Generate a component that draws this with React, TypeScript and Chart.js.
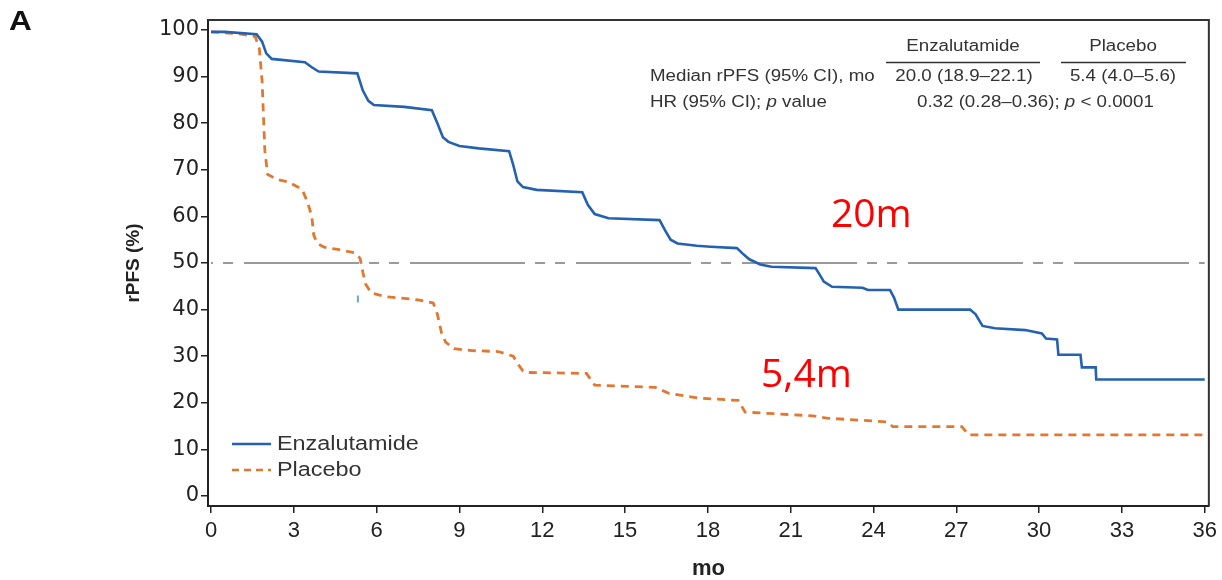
import React, { useEffect, useRef } from "react";
import { Chart, registerables } from "chart.js";

Chart.register(...registerables);

// ---- data ----
const enzTimes = [0, 0.5, 1.65, 1.85, 2.0, 2.2, 3.4, 3.65, 3.9, 5.3, 5.5, 5.7, 5.9, 7.0, 8.0, 8.2, 8.4, 8.6, 9.0, 9.7, 10.8, 10.95, 11.1, 11.3, 11.8, 13.45, 13.65, 13.9, 14.4, 16.25, 16.45, 16.65, 16.9, 17.6, 18.1, 19.05, 19.3, 19.5, 19.9, 20.3, 21.9, 22.05, 22.2, 22.5, 23.6, 23.8, 24.6, 24.75, 24.9, 27.5, 27.7, 27.95, 28.4, 29.5, 30.1, 30.25, 30.65, 30.7, 31.5, 31.55, 32.05, 32.07, 36.0];
const enzValues = [99.6, 99.6, 99.1, 97.5, 95.0, 93.8, 93.1, 92.0, 91.1, 90.7, 87.0, 84.8, 83.9, 83.5, 82.8, 80.0, 77.0, 76.0, 75.1, 74.6, 74.0, 71.0, 67.5, 66.3, 65.7, 65.2, 62.5, 60.5, 59.6, 59.2, 57.0, 55.0, 54.2, 53.7, 53.5, 53.2, 51.8, 50.8, 49.7, 49.2, 48.9, 47.5, 46.0, 44.9, 44.7, 44.2, 44.2, 42.5, 40.0, 40.0, 39.0, 36.5, 36.0, 35.6, 34.9, 33.8, 33.6, 30.3, 30.3, 27.6, 27.6, 25.0, 25.0];

const plaTimes = [0, 1.0, 1.6, 1.75, 1.85, 1.95, 2.05, 2.4, 2.8, 3.3, 3.5, 3.65, 3.72, 3.85, 4.1, 4.6, 5.2, 5.4, 5.5, 5.6, 5.8, 6.3, 7.5, 8.05, 8.2, 8.35, 8.5, 8.8, 9.45, 10.4, 10.95, 11.1, 11.3, 11.54, 13.6, 13.9, 16.1, 16.6, 17.7, 19.1, 19.35, 21.8, 22.3, 24.5, 24.7, 27.2, 27.45, 36.0];
const plaValues = [99.6, 99.2, 98.6, 96.0, 89.0, 74.0, 69.0, 67.9, 67.4, 65.8, 63.0, 60.0, 56.0, 54.2, 53.4, 52.9, 52.2, 51.0, 48.0, 45.5, 43.6, 42.8, 42.1, 41.4, 39.0, 35.0, 33.0, 31.6, 31.2, 31.0, 30.0, 28.5, 26.8, 26.5, 26.3, 23.8, 23.3, 22.0, 21.0, 20.5, 18.0, 17.2, 16.7, 15.9, 14.9, 14.9, 13.1, 13.1];

const censorTimes = [5.32];
const censorValues = [42.3];

const medianLine = [50, 50];
const medianTimes = [0, 36];

const xTickValues = [0, 3, 6, 9, 12, 15, 18, 21, 24, 27, 30, 33, 36];
const yTickValues = [0, 10, 20, 30, 40, 50, 60, 70, 80, 90, 100];

const seriesLabels = ["Enzalutamide", "Placebo"];
const tableHeaders = ["Enzalutamide", "Placebo"];
const tableRowLabels = ["Median rPFS (95% CI), mo", "HR (95% CI); "];
const medianTexts = ["20.0 (18.9\u201322.1)", "5.4 (4.0\u20135.6)"];
const hrText = ["0.32 (0.28\u20130.36); ", "p", " < 0.0001"];
const annotations = ["20m", "5,4m"];

const BLUE = "#2461b0";
const ORANGE = "#e2782f";
const TEXT = "#333333";
const SANS = "'Liberation Sans', Arial, sans-serif";
const STRETCH = 1.17;

const toPts = (t: number[], v: number[]) => t.map((x, i) => ({ x, y: v[i] }));

// draw horizontally stretched text, returns drawn width
function sText(ctx: any, text: string, x: number, y: number, align: string, k = STRETCH) {
  ctx.save();
  ctx.translate(x, y);
  ctx.scale(k, 1);
  ctx.textAlign = align;
  ctx.fillText(text, 0, 0);
  const w = ctx.measureText(text).width * k;
  ctx.restore();
  return w;
}

const decorPlugin = {
  id: "decor",
  beforeDatasetsDraw(chart: any) {
    const { ctx, chartArea } = chart;
    ctx.save();
    ctx.strokeStyle = "#333";
    ctx.lineWidth = 2;
    ctx.beginPath();
    ctx.moveTo(chartArea.left, chartArea.top);
    ctx.lineTo(chartArea.right, chartArea.top);
    ctx.lineTo(chartArea.right, chartArea.bottom);
    ctx.stroke();
    ctx.restore();
  },
  afterDraw(chart: any) {
    const { ctx } = chart;
    ctx.save();
    ctx.textBaseline = "alphabetic";
    // panel letter
    ctx.fillStyle = "#111";
    ctx.font = `bold 27px ${SANS}`;
    sText(ctx, "A", 9, 30, "left");

    // table
    const f = `16px ${SANS}`;
    const fi = `italic 16px ${SANS}`;
    ctx.fillStyle = TEXT;
    ctx.font = f;
    sText(ctx, tableHeaders[0], 963, 51, "center");
    sText(ctx, tableHeaders[1], 1123, 51, "center");
    ctx.strokeStyle = TEXT;
    ctx.lineWidth = 1.5;
    ctx.beginPath();
    ctx.moveTo(886, 62.5);
    ctx.lineTo(1040, 62.5);
    ctx.moveTo(1061, 62.5);
    ctx.lineTo(1186, 62.5);
    ctx.stroke();
    sText(ctx, tableRowLabels[0], 650, 81, "left");
    sText(ctx, medianTexts[0], 964, 81, "center");
    sText(ctx, medianTexts[1], 1123, 81, "center");
    let x = 650;
    x += sText(ctx, tableRowLabels[1], x, 107, "left");
    ctx.font = fi;
    x += sText(ctx, "p", x, 107, "left");
    ctx.font = f;
    sText(ctx, " value", x, 107, "left");

    x = 917;
    x += sText(ctx, hrText[0], x, 107, "left");
    ctx.font = fi;
    x += sText(ctx, hrText[1], x, 107, "left");
    ctx.font = f;
    sText(ctx, hrText[2], x, 107, "left");

    // legend
    const ds = chart.data.datasets;
    ctx.font = `19.5px ${SANS}`;
    ctx.textBaseline = "middle";
    for (let i = 0; i < 2; i++) {
      const y = 444 + i * 26;
      ctx.strokeStyle = ds[i].borderColor;
      ctx.lineWidth = 2.5;
      ctx.setLineDash(i === 0 ? [] : [7, 5]);
      ctx.beginPath();
      ctx.moveTo(232, y);
      ctx.lineTo(271, y);
      ctx.stroke();
      ctx.setLineDash([]);
      ctx.fillStyle = TEXT;
      sText(ctx, seriesLabels[i], 277, y + 1, "left", 1.2);
    }

    // red annotations
    ctx.fillStyle = "#ff0000";
    ctx.font = `39px 'Open Sans', 'Noto Sans', sans-serif`;
    ctx.textBaseline = "alphabetic";
    ctx.textAlign = "left";
    ctx.fillText(annotations[0], 831, 227);
    ctx.fillText(annotations[1], 761, 387);
    ctx.restore();
  },
};

export default function App() {
  const canvasRef = useRef<HTMLCanvasElement | null>(null);

  useEffect(() => {
    if (!canvasRef.current) return;
    const chart = new Chart(canvasRef.current, {
      type: "line",
      data: {
        datasets: [
          {
            label: seriesLabels[0],
            data: toPts(enzTimes, enzValues),
            borderColor: BLUE,
            borderWidth: 2.6,
            pointRadius: 0,
            tension: 0,
            fill: false,
          },
          {
            label: seriesLabels[1],
            data: toPts(plaTimes, plaValues),
            borderColor: ORANGE,
            borderWidth: 2.8,
            borderDash: [8, 6],
            pointRadius: 0,
            tension: 0,
            fill: false,
          },
          {
            label: "censor",
            data: toPts(censorTimes, censorValues),
            showLine: false,
            pointStyle: "line",
            rotation: 90,
            pointRadius: 3.5,
            borderColor: "#6aa6df",
            borderWidth: 2,
          } as any,
          {
            label: "median",
            data: toPts(medianTimes, medianLine),
            borderColor: "#9a9a9a",
            borderWidth: 2,
            borderDash: [115, 10, 10, 10, 10, 11],
            borderDashOffset: 133,
            pointRadius: 0,
            tension: 0,
            fill: false,
          },
        ],
      },
      options: {
        animation: false,
        responsive: true,
        maintainAspectRatio: false,
        layout: { padding: { left: 0, right: 12, top: 20, bottom: 0 } },
        plugins: {
          legend: { display: false },
          tooltip: { enabled: false },
        },
        scales: {
          x: {
            type: "linear",
            min: -0.11,
            max: 36.15,
            afterBuildTicks: (s: any) => {
              s.ticks = xTickValues.map((v) => ({ value: v }));
            },
            afterFit: (s: any) => {
              s.height = 74;
            },
            grid: {
              drawOnChartArea: false,
              drawTicks: true,
              tickLength: 7,
              color: "#222",
              lineWidth: 1.5,
            },
            border: { display: true, color: "#222", width: 2 },
            ticks: {
              color: "#222",
              padding: 5,
              maxRotation: 0,
              autoSkip: false,
              font: { family: SANS, size: 22 },
            },
            title: {
              display: true,
              text: "mo",
              color: "#222",
              font: { family: SANS, size: 22, weight: "bold", lineHeight: 1.0 },
              padding: { top: 0, bottom: 0 },
            },
          },
          y: {
            type: "linear",
            min: -2.15,
            max: 102.15,
            afterBuildTicks: (s: any) => {
              s.ticks = yTickValues.map((v) => ({ value: v }));
            },
            afterFit: (s: any) => {
              s.width = 208;
            },
            grid: {
              drawOnChartArea: false,
              drawTicks: true,
              tickLength: 7,
              color: "#222",
              lineWidth: 1.5,
            },
            border: { display: true, color: "#222", width: 2 },
            ticks: {
              color: "#222",
              padding: 2,
              autoSkip: false,
              font: { family: "'DejaVu Sans', sans-serif", size: 21 },
            },
            title: {
              display: true,
              text: "rPFS (%)",
              color: "#222",
              font: { family: SANS, size: 19, weight: "bold", lineHeight: 1.2 },
              padding: { top: 122, bottom: 0 },
            },
          },
        },
      },
      plugins: [decorPlugin],
    });
    return () => chart.destroy();
  }, []);

  return (
    <div style={{ position: "absolute", left: 0, top: 0, width: 1222, height: 580, background: "#fff" }}>
      <canvas ref={canvasRef} />
    </div>
  );
}
